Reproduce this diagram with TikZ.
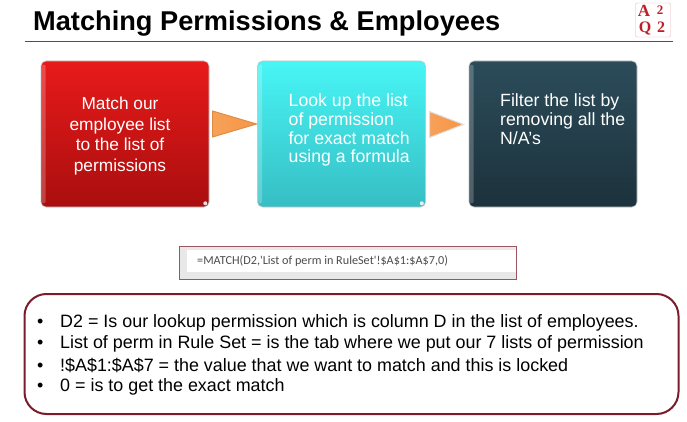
\documentclass[tikz,border=0pt]{standalone}
\usepackage{fontspec}
\setmainfont{Liberation Sans}
\newfontfamily\logofont{Liberation Serif}
\newfontfamily\formulafont{Carlito}
\usetikzlibrary{shapes.geometric}
\definecolor{mmaroon}{RGB}{122,28,44}
\definecolor{mline}{RGB}{150,50,50}
\definecolor{mlogo}{RGB}{190,30,40}
\definecolor{mpeach}{RGB}{246,150,70}
\definecolor{mredtop}{RGB}{232,26,26}
\definecolor{mredbot}{RGB}{170,14,14}
\definecolor{mcyantop}{RGB}{72,245,245}
\definecolor{mcyanbot}{RGB}{54,190,196}
\definecolor{mdarktop}{RGB}{44,76,90}
\definecolor{mdarkbot}{RGB}{28,50,60}
\tikzset{
    stepbox/.style={rectangle, rounded corners=5pt, minimum width=168pt, minimum height=146pt, inner sep=0pt, draw=gray!45, line width=.6pt},
    steptext/.style={text=white, inner sep=0pt, font=\fontsize{17.7}{18.8}\selectfont},
    shine/.style={white, opacity=.22, rounded corners=2pt},
    glint/.style={white, opacity=.85},
    pointer/.style={isosceles triangle, isosceles triangle apex angle=60, isosceles triangle stretches, anchor=lower side, inner sep=0pt, left color=mpeach!90!white, right color=mpeach, line width=1pt},
    bullettext/.style={anchor=base west, inner sep=0pt, font=\fontsize{17.9}{20}\selectfont},
}
\begin{document}
\begin{tikzpicture}[x=1pt, y=-1pt]
    \useasboundingbox (0, 0) rectangle (687, 422);

    \node[anchor=base west, inner sep=0pt, font=\bfseries\fontsize{27.2}{30}\selectfont] (title) at (33, 31) {Matching Permissions \& Employees};
    \coordinate (ruleL) at (25, 41);
    \coordinate (ruleR) at (673, 41);
    \draw[mline, line width=.8pt] (ruleL) -- (ruleR);

    \node[rectangle, rounded corners=2pt, draw=mlogo!35, minimum width=35pt, minimum height=34pt, inner sep=0pt] (logo) at (653, 20) {};
    \node[text=mlogo, inner sep=0pt, font=\logofont\bfseries\fontsize{17}{17}\selectfont] (logoA) at (644, 10.5) {A};
    \node[text=mlogo, inner sep=0pt, font=\logofont\bfseries\fontsize{13}{13}\selectfont] (logoa) at (660, 10) {2};
    \node[text=mlogo, inner sep=0pt, font=\logofont\bfseries\fontsize{16}{16}\selectfont] (logoQ) at (645, 28.5) {Q};
    \node[text=mlogo, inner sep=0pt, font=\logofont\bfseries\fontsize{16}{16}\selectfont] (logoq) at (661, 27) {2};

    \node[stepbox, top color=mredtop, bottom color=mredbot] (match)  at (125, 134) {};
    \node[stepbox, top color=mcyantop, bottom color=mcyanbot] (lookup) at (341.5, 134) {};
    \node[stepbox, top color=mdarktop, bottom color=mdarkbot] (filter) at (553, 134) {};

    \fill[shine] ([shift={(1pt,-4pt)}]match.north west) rectangle ([shift={(5pt,4pt)}]match.south west);
    \fill[shine] ([shift={(1pt,-4pt)}]lookup.north west) rectangle ([shift={(5pt,4pt)}]lookup.south west);
    \fill[shine] ([shift={(1pt,-4pt)}]filter.north west) rectangle ([shift={(5pt,4pt)}]filter.south west);
    \fill[glint] ([shift={(-4pt,4pt)}]match.south east) circle (2pt);
    \fill[glint] ([shift={(-4pt,4pt)}]lookup.south east) circle (2pt);

    \node[steptext, align=center, font=\fontsize{17.3}{20.7}\selectfont] (matchtext) at (120, 136) {Match our\\employee list\\to the list of\\permissions};
    \node[steptext, align=left, anchor=north west] (lookuptext) at (288.5, 93.5) {Look up the list\\of permission\\for exact match\\using a formula};
    \node[steptext, align=left, anchor=north west] (filtertext) at (500, 93.5) {Filter the list by\\removing all the\\N/A’s};

    \node[pointer, draw=mpeach!60!brown, minimum width=26pt, minimum height=44pt] (arrowA) at (212, 124) {};
    \node[pointer, draw=gray!25, minimum width=26pt, minimum height=34pt] (arrowB) at (429, 124.5) {};

    \node[rectangle, draw=mmaroon!75, fill=gray!18, line width=1pt, minimum width=337pt, minimum height=33pt, inner sep=0pt] (formulabox) at (348, 263) {};
    \node[rectangle, fill=white, minimum width=329pt, minimum height=22pt, inner sep=0pt] (formulafield) at (351.5, 261) {};
    \node[anchor=west, inner sep=0pt, text=black!70, font=\formulafont\fontsize{12.2}{14}\selectfont] (formula) at (197, 261) {=MATCH(D2,'List of perm in RuleSet'!\$A\$1:\$A\$7,0)};

    \node[rectangle, rounded corners=22pt, draw=mmaroon, line width=2pt, fill=white, minimum width=654pt, minimum height=120pt, inner sep=0pt] (notes) at (351.5, 354) {};

    \node[bullettext] (dot1) at (37, 327) {•};
    \node[bullettext] (dot2) at (37, 348) {•};
    \node[bullettext] (dot3) at (37, 371) {•};
    \node[bullettext] (dot4) at (37, 391) {•};
    \node[bullettext] (note1) at (60, 327.5) {D2 = Is our lookup permission which is column D in the list of employees.};
    \node[bullettext] (note2) at (60, 348.5) {List of perm in Rule Set = is the tab where we put our 7 lists of permission};
    \node[bullettext] (note3) at (60, 371) {!\$A\$1:\$A\$7 = the value that we want to match and this is locked};
    \node[bullettext] (note4) at (60, 391) {0 = is to get the exact match};
\end{tikzpicture}
\end{document}
